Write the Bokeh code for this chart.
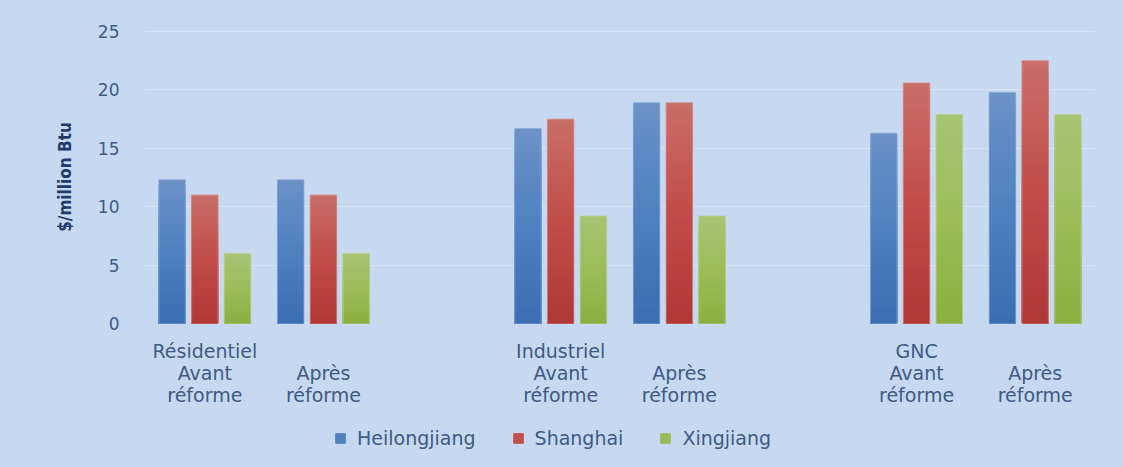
import numpy as np
from bokeh.plotting import figure
from bokeh.layouts import column
from bokeh.models import (Range1d, FixedTicker, LinearAxis, ColumnDataSource,
                          Legend, LegendItem)
from bokeh.embed import file_html
from bokeh.resources import INLINE

# ---------------- data ----------------
sectors = ["Résidentiel", "Industriel", "GNC"]
phases = ["Avant réforme", "Après réforme"]
series_names = ["Heilongjiang", "Shanghai", "Xingjiang"]
heilongjiang = [12.3, 12.3, 16.7, 18.9, 16.3, 19.8]
shanghai = [11.0, 11.0, 17.5, 18.9, 20.6, 22.5]
xingjiang = [6.0, 6.0, 9.2, 9.2, 17.9, 17.9]
y_ticks = [0, 5, 10, 15, 20, 25]

# ---------------- style ----------------
BG = "#c6d9f0"
GRID = "#d9e5f4"
TXT = "#3f5a84"
# gradient stops (bottom, middle, top) per series
stops = [
    [(58, 110, 178), (78, 129, 193), (108, 145, 199)],
    [(176, 56, 54), (193, 76, 72), (201, 110, 104)],
    [(139, 175, 66), (156, 189, 89), (167, 196, 116)],
]
outline = ["#86a8d6", "#d78a85", "#b8d08e"]
legend_col = ["#4f81bd", "#c0504d", "#9bbb59"]
N_SEG = 40
BAR_W = 0.223
OFFS = [-0.276, 0.0, 0.276]

values = [heilongjiang, shanghai, xingjiang]

# slot positions: one empty slot between sectors
slots = []
for si in range(len(sectors)):
    for pi in range(len(phases)):
        slots.append(si * (len(phases) + 1) + pi)


def lerp(c0, c1, t):
    return tuple(int(round(a + (b - a) * t)) for a, b in zip(c0, c1))


def grad_color(st, t):
    if t <= 0.5:
        c = lerp(st[0], st[1], t / 0.5)
    else:
        c = lerp(st[1], st[2], (t - 0.5) / 0.5)
    return "#%02x%02x%02x" % c


W = 1123
H_MAIN = 420
H_LEG = 47
BGSTYLE = {"background-color": BG}

p = figure(width=W, height=H_MAIN, output_backend="svg", toolbar_location=None,
           x_range=Range1d(-0.5, slots[-1] + 0.5), y_range=Range1d(0, 25.09),
           x_axis_location=None, min_border_left=145, min_border_right=29,
           min_border_top=30, min_border_bottom=97, styles=BGSTYLE)
p.background_fill_alpha = 0
p.border_fill_alpha = 0
p.outline_line_color = None

for k, (vals, st) in enumerate(zip(values, stops)):
    xs, tops, cols = [], [], []
    # draw tallest (lightest) first, shorter darker pieces on top -> gradient
    for j in range(N_SEG):
        frac = (N_SEG - j) / N_SEG
        col = grad_color(st, (N_SEG - j - 0.5) / N_SEG)
        for s, v in zip(slots, vals):
            xs.append(s + OFFS[k])
            tops.append(v * frac)
            cols.append(col)
    src = ColumnDataSource(dict(x=xs, top=tops, c=cols))
    p.vbar(x="x", top="top", bottom=0, width=BAR_W, fill_color="c",
           line_color=None, source=src)
    src2 = ColumnDataSource(dict(x=[s + OFFS[k] for s in slots], top=vals))
    p.vbar(x="x", top="top", bottom=0, width=BAR_W, fill_alpha=0,
           line_color=outline[k], line_width=1, line_alpha=0.8, source=src2)

# y axis
yax = p.yaxis[0]
yax.ticker = FixedTicker(ticks=y_ticks)
yax.axis_line_color = None
yax.major_tick_line_color = None
yax.minor_tick_line_color = None
yax.major_tick_out = 0
yax.major_tick_in = 0
yax.major_label_text_font = "DejaVu Sans"
yax.major_label_text_font_size = "17px"
yax.major_label_text_color = TXT
yax.major_label_standoff = 26
yax.axis_label = "$/million Btu"
yax.axis_label_text_font = "DejaVu Sans Condensed"
yax.axis_label_text_font_style = "bold"
yax.axis_label_text_font_size = "17px"
yax.axis_label_text_color = "#1f3a68"
yax.axis_label_standoff = 20

p.ygrid.ticker = FixedTicker(ticks=y_ticks)
p.ygrid.grid_line_color = GRID
p.ygrid.grid_line_width = 1
p.xgrid.grid_line_color = None

# x axes: sector names on first line, phase words on the next two lines
sector_slots = [slots[i * len(phases)] for i in range(len(sectors))]
ax1 = LinearAxis(ticker=FixedTicker(ticks=sector_slots))
ax1.major_label_overrides = {s: sectors[i] for i, s in enumerate(sector_slots)}
ax2 = LinearAxis(ticker=FixedTicker(ticks=slots))
ax2.major_label_overrides = {s: phases[i % len(phases)].split(" ")[0]
                             for i, s in enumerate(slots)}
ax3 = LinearAxis(ticker=FixedTicker(ticks=slots))
ax3.major_label_overrides = {s: phases[i % len(phases)].split(" ")[1]
                             for i, s in enumerate(slots)}
for ax, so in ((ax1, 16), (ax2, -3), (ax3, -3)):
    ax.axis_line_color = None
    ax.major_tick_line_color = None
    ax.minor_tick_line_color = None
    ax.major_tick_out = 0
    ax.major_tick_in = 0
    ax.major_label_text_font = "DejaVu Sans"
    ax.major_label_text_font_size = "19px"
    ax.major_label_text_color = TXT
    ax.major_label_standoff = so
    p.add_layout(ax, "below")

# ---------------- legend strip ----------------
p2 = figure(width=W, height=H_LEG, output_backend="svg", toolbar_location=None,
            x_range=Range1d(0, 1), y_range=Range1d(0, 1),
            x_axis_location=None, y_axis_location=None, min_border=0,
            styles=BGSTYLE)
p2.background_fill_alpha = 0
p2.border_fill_alpha = 0
p2.outline_line_color = None
p2.xgrid.grid_line_color = None
p2.ygrid.grid_line_color = None

legend_items = []
for k in range(len(series_names)):
    rl = p2.vbar(x=[-10], top=[0], width=0.1, fill_color=legend_col[k],
                 line_color=legend_col[k])
    legend_items.append(LegendItem(label=series_names[k], renderers=[rl]))

legend = Legend(items=legend_items, orientation="horizontal",
                location=(189, 18), padding=0, margin=0,
                label_standoff=11, glyph_width=12, glyph_height=12,
                label_height=20, spacing=36,
                background_fill_alpha=0, border_line_color=None,
                label_text_font="DejaVu Sans", label_text_font_size="19px",
                label_text_color=TXT)
p2.add_layout(legend, "center")

layout = column(p, p2, spacing=0, styles=BGSTYLE)
open("out.html", "w").write(file_html(layout, INLINE))
